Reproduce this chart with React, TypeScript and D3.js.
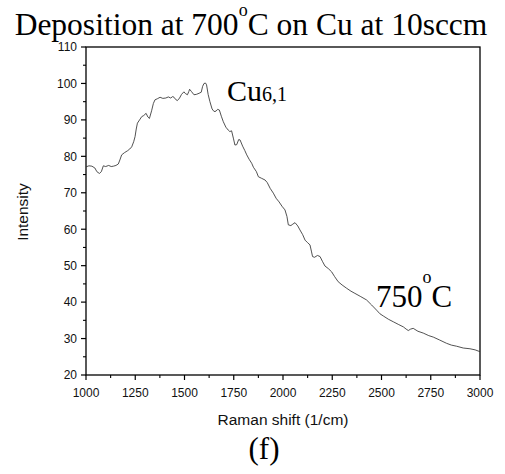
import React from "react";
import * as d3 from "d3";

const ramanShift: number[] = [
  1000, 1015, 1030, 1045, 1055, 1068, 1078, 1088, 1100, 1115, 1128, 1139, 1152, 1164, 1172, 1181,
  1195, 1210, 1222, 1232, 1242, 1249, 1255, 1261, 1272, 1283, 1293, 1305, 1314, 1322, 1333, 1342,
  1350, 1362, 1376, 1390, 1405, 1418, 1430, 1440, 1447, 1455, 1464, 1475, 1485, 1497, 1505, 1515,
  1522, 1526, 1535, 1548, 1560, 1574, 1585, 1592, 1599, 1607, 1612, 1620, 1629, 1640, 1650, 1660,
  1668, 1677, 1687, 1697, 1710, 1722, 1730, 1739, 1748, 1756, 1765, 1775, 1782, 1795, 1806, 1816,
  1828, 1841, 1850, 1865, 1875, 1890, 1909, 1920, 1935, 1951, 1965, 1980, 1995, 2010, 2020, 2027,
  2040, 2050, 2061, 2075, 2086, 2100, 2112, 2125, 2137, 2144, 2150, 2160, 2175, 2188, 2200, 2213,
  2230, 2247, 2262, 2280, 2300, 2323, 2345, 2365, 2395, 2424, 2450, 2475, 2492, 2509, 2535, 2560,
  2585, 2611, 2625, 2636, 2648, 2661, 2685, 2712, 2740, 2763, 2795, 2830, 2855, 2881, 2915, 2949,
  2975, 3000,
];

const intensity: number[] = [
  77.1, 77.4, 77.3, 76.8, 75.8, 75.3, 75.8, 77.4, 77.2, 77.5, 77.2, 77.3, 77.5, 77.9, 79.0, 80.4,
  81.0, 81.5, 82.0, 82.6, 84.0, 85.4, 87.5, 89.1, 90.0, 90.9, 91.2, 91.8, 90.8, 90.4, 92.5, 94.5,
  95.5, 95.8, 96.2, 95.9, 96.0, 96.3, 96.0, 96.4, 96.2, 95.6, 95.3, 96.0, 97.0, 97.7, 97.2, 96.9,
  97.8, 98.4, 97.8, 96.9, 97.0, 97.3, 97.6, 99.2, 100.0, 100.1, 99.6, 97.0, 95.0, 93.0, 92.3, 92.4,
  92.9, 92.7, 91.0, 89.5, 88.0, 87.2, 86.8, 87.0, 85.0, 83.1, 83.2, 84.6, 84.5, 82.8, 81.6, 80.4,
  79.2, 78.1, 77.0, 75.8, 74.4, 74.0, 73.5, 72.8, 71.2, 69.9, 68.5, 67.5, 66.3, 65.3, 63.5, 61.2,
  61.0, 61.4, 61.8, 60.9, 59.8, 58.5, 57.0, 56.3, 55.7, 54.0, 52.5, 52.3, 52.8, 52.5, 51.2, 49.9,
  49.2, 48.3, 47.0, 45.6, 44.7, 43.8, 43.0, 42.4, 41.5, 40.6, 39.2, 37.8, 36.8, 36.2, 35.3, 34.6,
  33.9, 33.2, 32.6, 32.2, 32.6, 32.8, 32.0, 31.5, 30.8, 30.4, 29.6, 28.7, 28.2, 27.9, 27.4, 27.2,
  26.9, 26.4,
];

const xMajorTicks: number[] = [1000, 1250, 1500, 1750, 2000, 2250, 2500, 2750, 3000];
const xMinorTicks: number[] = [1125, 1375, 1625, 1875, 2125, 2375, 2625, 2875];
const yMajorTicks: number[] = [20, 30, 40, 50, 60, 70, 80, 90, 100, 110];
const yMinorTicks: number[] = [25, 35, 45, 55, 65, 75, 85, 95, 105];

const W = 505;
const H = 474;
const left = 86;
const right = 480;
const top = 47;
const bottom = 375;

const sans = "'Liberation Sans', Arial, sans-serif";
const serif = "'Liberation Serif', 'Times New Roman', serif";

export default function App() {
  const x = d3.scaleLinear().domain([1000, 3000]).range([left, right]);
  const y = d3.scaleLinear().domain([20, 110]).range([bottom, top]);
  const pts = ramanShift.map((v, i) => [v, intensity[i]] as [number, number]);
  const line = d3
    .line<[number, number]>()
    .x((d) => x(d[0]))
    .y((d) => y(d[1]));

  return (
    <svg
      width={W}
      height={H}
      style={{ position: "absolute", left: 0, top: 0, background: "#fff" }}
    >
      <rect x={0} y={0} width={W} height={H} fill="#fff" />
      <rect
        x={left}
        y={top}
        width={right - left}
        height={bottom - top}
        fill="none"
        stroke="#000"
        strokeWidth={1.3}
      />
      {yMajorTicks.map((t) => (
        <g key={"ym" + t}>
          <line x1={left - 5} x2={left} y1={y(t)} y2={y(t)} stroke="#000" strokeWidth={1.2} />
          <text
            x={left - 9}
            y={y(t)}
            dy="0.36em"
            textAnchor="end"
            fontFamily={sans}
            fontSize={12}
            fill="#111"
          >
            {t}
          </text>
        </g>
      ))}
      {yMinorTicks.map((t) => (
        <line key={"yn" + t} x1={left - 3} x2={left} y1={y(t)} y2={y(t)} stroke="#000" strokeWidth={1.1} />
      ))}
      {xMajorTicks.map((t) => (
        <g key={"xm" + t}>
          <line x1={x(t)} x2={x(t)} y1={bottom} y2={bottom + 5} stroke="#000" strokeWidth={1.2} />
          <text
            x={x(t)}
            y={397}
            textAnchor="middle"
            fontFamily={sans}
            fontSize={12}
            fill="#111"
          >
            {t}
          </text>
        </g>
      ))}
      {xMinorTicks.map((t) => (
        <line key={"xn" + t} x1={x(t)} x2={x(t)} y1={bottom} y2={bottom + 3} stroke="#000" strokeWidth={1.1} />
      ))}
      <path d={line(pts) || ""} fill="none" stroke="#333" strokeWidth={0.85} />
      <text
        x={283}
        y={425}
        textAnchor="middle"
        fontFamily={sans}
        fontSize={15.5}
        fill="#111"
      >
        Raman shift (1/cm)
      </text>
      <text
        transform="translate(28,212) rotate(-90)"
        textAnchor="middle"
        fontFamily={sans}
        fontSize={15.5}
        fill="#111"
      >
        Intensity
      </text>
      <text x={227} y={101} fontFamily={serif} fontSize={30} fill="#000">
        Cu
        <tspan fontSize={20} dy={0}>6,1</tspan>
      </text>
      <text x={376} y={307} fontFamily={serif} fontSize={31} fill="#000">
        750
        <tspan fontSize={18} dy={-24}>o</tspan>
        <tspan dy={24}>C</tspan>
      </text>
      <text x={264} y={459} textAnchor="middle" fontFamily={serif} fontSize={31} fill="#000">
        (f)
      </text>
      <text x={251} y={35} textAnchor="middle" fontFamily={serif} fontSize={31.5} fill="#000">
        Deposition at 700
        <tspan fontSize={18} dy={-19}>o</tspan>
        <tspan dy={19}>C on Cu at 10sccm</tspan>
      </text>
    </svg>
  );
}
